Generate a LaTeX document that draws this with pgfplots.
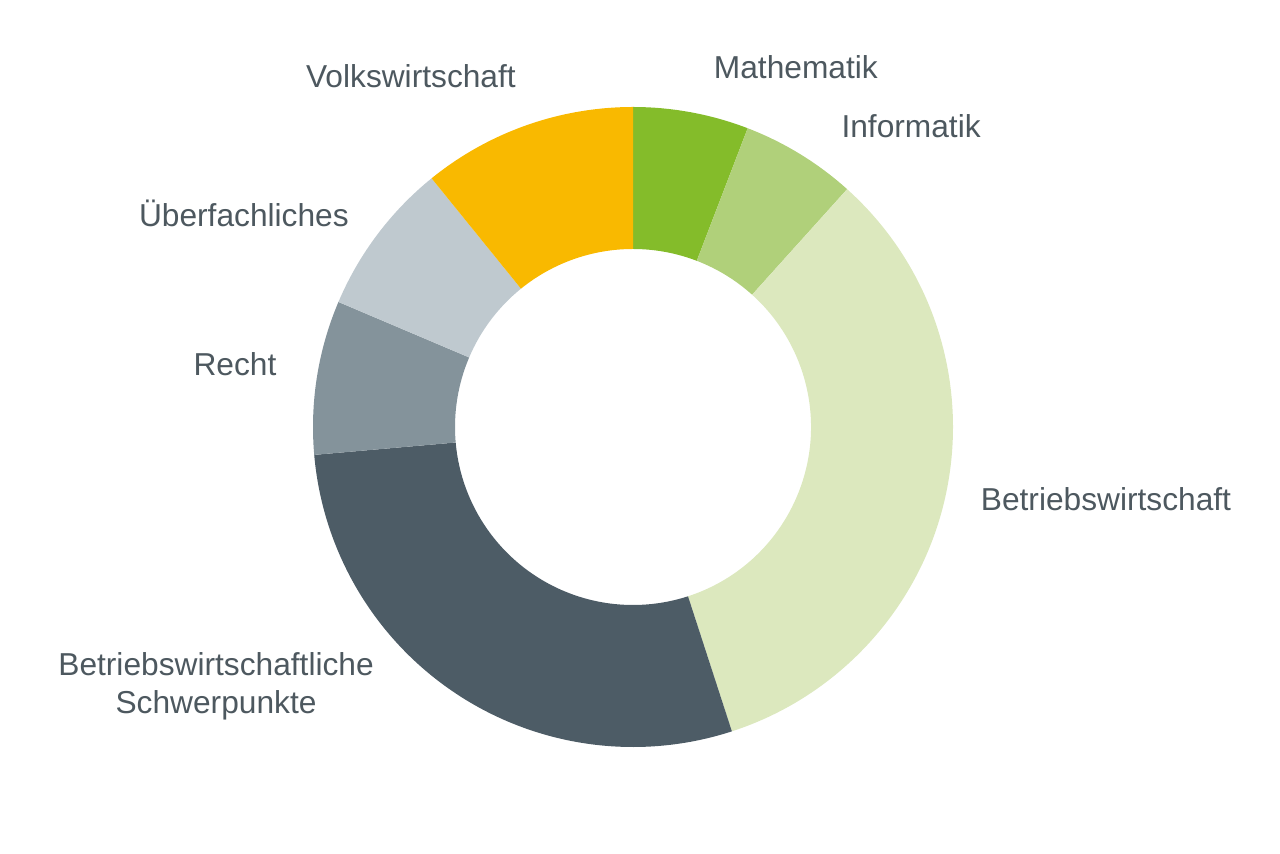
\documentclass[border=0pt]{standalone}
\usepackage{fontspec}
\setmainfont{Liberation Sans}
\usepackage{pgfplots}
\usepackage{pgfplotstable}
\pgfplotsset{compat=1.18}

\definecolor{cMath}{HTML}{84BC2A}
\definecolor{cInfo}{HTML}{B0D07A}
\definecolor{cBW}{HTML}{DCE8BE}
\definecolor{cBWS}{HTML}{4D5C66}
\definecolor{cRecht}{HTML}{84939B}
\definecolor{cUeber}{HTML}{BFC9CF}
\definecolor{cVW}{HTML}{F9B900}
\definecolor{txt}{HTML}{4D585F}

\tikzset{lbl/.style={text=txt, font=\fontsize{31.7}{38}\selectfont, align=center, inner sep=0pt}}

% share of each segment, in degrees, clockwise from 12 o'clock
\pgfplotstableread{
name   value colour
Math   21    cMath
Info   21    cInfo
BW     120   cBW
BWS    103   cBWS
Recht  28    cRecht
Ueber  28    cUeber
VW     39    cVW
}\datatable

\begin{document}
\begin{tikzpicture}
\path[use as bounding box] (0,0) rectangle (1280pt,854pt);
\begin{axis}[
    at={(313pt,107pt)}, anchor=south west,
    scale only axis, width=640pt, height=640pt,
    xmin=-1, xmax=1, ymin=-1, ymax=1,
    hide axis, clip=false,
  ]
  \pgfplotstablegetrowsof{\datatable}
  \pgfmathtruncatemacro\N{\pgfplotsretval-1}
  \gdef\cum{90}
  \pgfplotsforeachungrouped \i in {0,...,\N}{%
    \pgfplotstablegetelem{\i}{value}\of\datatable \let\v\pgfplotsretval
    \pgfplotstablegetelem{\i}{colour}\of\datatable \let\c\pgfplotsretval
    \pgfmathsetmacro\a{\cum}%
    \pgfmathsetmacro\b{\cum-\v}%
    \edef\temp{\noexpand\fill[\c, shift={(axis cs:0,0)}]
      (\a:320pt) arc[start angle=\a, end angle=\b, radius=320pt]
      -- (\b:178pt) arc[start angle=\b, end angle=\a, radius=178pt] -- cycle;}%
    \temp
    \xdef\cum{\b}%
  }

  \node[lbl] at (axis cs:0.509,1.125) {Mathematik};
  \node[lbl] at (axis cs:0.869,0.941) {Informatik};
  \node[lbl] at (axis cs:1.478,-0.225) {Betriebswirtschaft};
  \node[lbl] at (axis cs:-1.303,-0.810) {Betriebswirtschaftliche\\Schwerpunkte};
  \node[lbl] at (axis cs:-1.244,0.197) {Recht};
  \node[lbl] at (axis cs:-1.216,0.666) {Überfachliches};
  \node[lbl] at (axis cs:-0.694,1.097) {Volkswirtschaft};
\end{axis}
\end{tikzpicture}
\end{document}
